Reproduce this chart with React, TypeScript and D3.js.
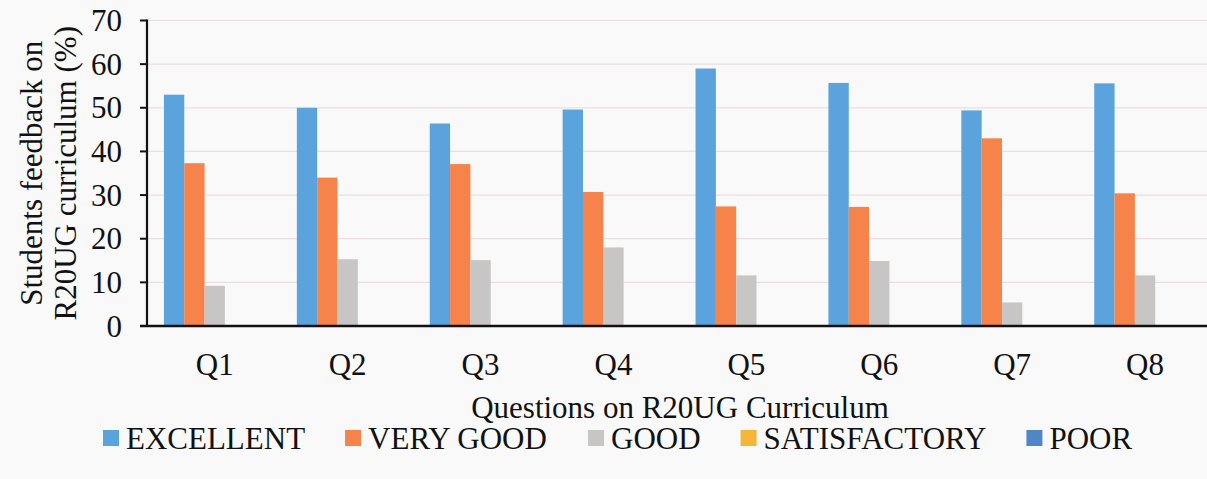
import React from "react";
import * as d3 from "d3";

const categories = ["Q1", "Q2", "Q3", "Q4", "Q5", "Q6", "Q7", "Q8"];
const seriesNames = ["EXCELLENT", "VERY GOOD", "GOOD", "SATISFACTORY", "POOR"];
const excellent = [53, 50, 46.4, 49.6, 59, 55.7, 49.4, 55.6];
const veryGood = [37.3, 34, 37.1, 30.7, 27.4, 27.3, 43, 30.4];
const good = [9.2, 15.3, 15.1, 18, 11.6, 14.9, 5.4, 11.6];
const satisfactory = [0, 0, 0, 0, 0, 0, 0, 0];
const poor = [0, 0, 0, 0, 0, 0, 0, 0];
const yTicks = [0, 10, 20, 30, 40, 50, 60, 70];
const colors = ["#5ba3dc", "#f5834a", "#c8c5c5", "#f4b637", "#4f86c6"];
const yTitleLines = ["Students feedback on", "R20UG curriculum (%)"];
const xTitle = "Questions on R20UG Curriculum";

const W = 1207;
const H = 479;
const FONT = "Liberation Serif, Times New Roman, serif";
const FS = 31;

function textWidth(t: string): number {
  if (typeof document === "undefined") return t.length * FS * 0.6;
  const c = document.createElement("canvas").getContext("2d");
  if (!c) return t.length * FS * 0.6;
  c.font = `${FS}px "Liberation Serif"`;
  return c.measureText(t).width;
}

export default function App() {
  const seriesValues = [excellent, veryGood, good, satisfactory, poor];
  const plotLeft = 147;
  const plotTop = 20.5;
  const plotBottom = 326;

  const x0 = d3.scaleBand<string>().domain(categories).range([148.3, 1211.5]).paddingInner(0).paddingOuter(0);
  const x1 = d3.scaleBand<string>().domain(seriesNames).range([0, x0.bandwidth()]).paddingInner(0).paddingOuter(0.77);
  const y = d3.scaleLinear().domain([0, 70]).range([plotBottom, plotTop]);

  const legendItems: { name: string; x: number; color: string }[] = [];
  let lx = 103;
  seriesNames.forEach((n, i) => {
    legendItems.push({ name: n, x: lx, color: colors[i] });
    lx += 23 + textWidth(n) + 40;
  });

  const txt = { fontFamily: FONT, fontSize: FS, fill: "#111" } as const;

  return (
    <svg width={W} height={H} style={{ position: "absolute", left: 0, top: 0, background: "#faf9f9" }}>
      <rect x={0} y={0} width={W} height={H} fill="#faf9f9" />
      {yTicks.filter((t) => t > 0).map((t) => (
        <line key={"g" + t} x1={plotLeft} x2={W} y1={y(t)} y2={y(t)} stroke="#e9dfe3" strokeWidth={1.2} />
      ))}
      {categories.map((c, ci) => (
        <g key={c} transform={`translate(${x0(c)},0)`}>
          {seriesNames.map((s, si) => {
            const v = seriesValues[si][ci];
            if (v <= 0) return null;
            return (
              <rect key={s} x={x1(s)} y={y(v)} width={x1.bandwidth()} height={y(0) - y(v)} fill={colors[si]} />
            );
          })}
        </g>
      ))}
      <line x1={plotLeft} x2={plotLeft} y1={plotTop - 1} y2={plotBottom} stroke="#111" strokeWidth={2.2} />
      {yTicks.map((t) => (
        <g key={"t" + t}>
          <line x1={140} x2={plotLeft} y1={y(t)} y2={y(t)} stroke="#111" strokeWidth={2} />
          <text x={122} y={y(t)} dy="0.34em" textAnchor="end" {...txt}>{t}</text>
        </g>
      ))}
      <line x1={140} x2={W} y1={plotBottom} y2={plotBottom} stroke="#111" strokeWidth={2.6} />
      {categories.map((c) => (
        <text key={"c" + c} x={(x0(c) as number) + x0.bandwidth() / 2} y={375} textAnchor="middle" {...txt}>{c}</text>
      ))}
      <text x={680} y={417.5} textAnchor="middle" {...txt}>{xTitle}</text>
      {yTitleLines.map((l, i) => (
        <text key={l} transform={`translate(${41.5 + i * 34},${(plotTop + plotBottom) / 2}) rotate(-90)`} textAnchor="middle" {...txt}>{l}</text>
      ))}
      {legendItems.map((it) => (
        <g key={it.name}>
          <rect x={it.x} y={430} width={16} height={16} fill={it.color} />
          <text x={it.x + 23} y={449} {...txt}>{it.name}</text>
        </g>
      ))}
    </svg>
  );
}
